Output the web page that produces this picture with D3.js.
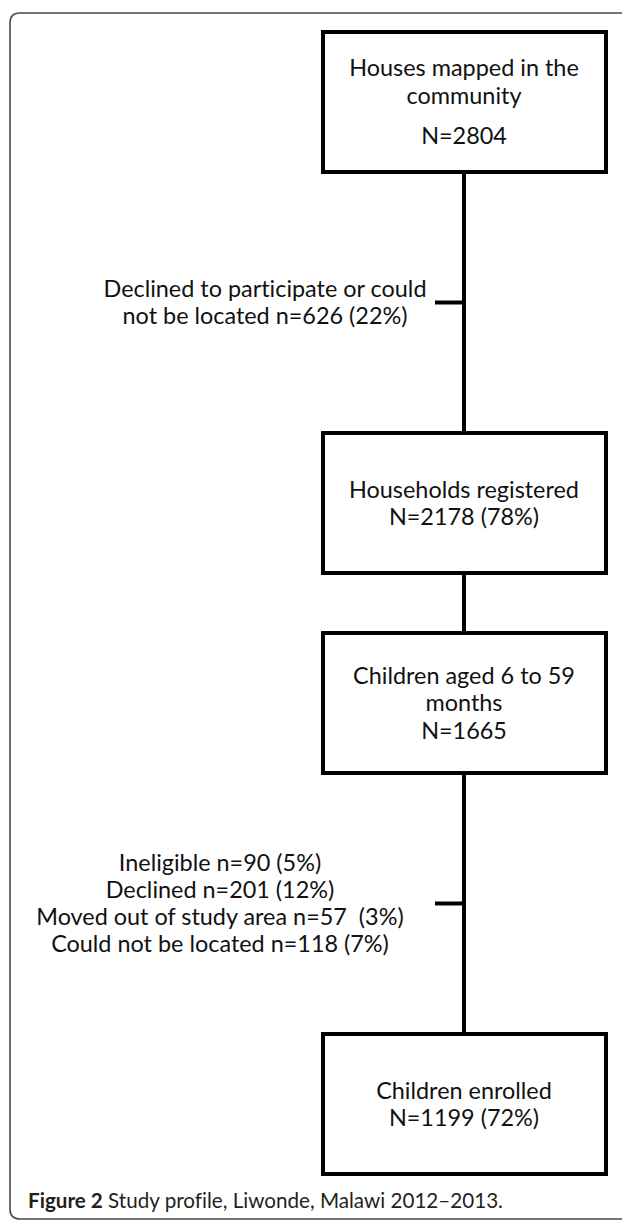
<!DOCTYPE html>
<html>
<head>
<meta charset="utf-8">
<script src="https://cdn.jsdelivr.net/npm/d3@7/dist/d3.min.js"></script>
<style>
  html, body { margin: 0; padding: 0; background: #fff; }
  svg { display: block; }
  text { font-variant-ligatures: none; font-feature-settings: "liga" 0, "clig" 0; }
</style>
</head>
<body>
<svg id="chart" width="622" height="1221"></svg>
<script>
// ---- data ----
const stageNames = [
  [["Houses mapped in the", "community"], ["N=2804"]],
  [["Households registered", "N=2178 (78%)"]],
  [["Children aged 6 to 59", "months", "N=1665"]],
  [["Children enrolled", "N=1199 (72%)"]]
];
const stageCounts = [2804, 2178, 1665, 1199];
const exclusionAfterStage = [0, 2];
const exclusionLines = [
  ["Declined to participate or could", "not be located n=626 (22%)"],
  ["Ineligible n=90 (5%)", "Declined n=201 (12%)", "Moved out of study area n=57\u00a0 (3%)", "Could not be located n=118 (7%)"]
];
const captionBold = "Figure 2";
const captionText = " Study profile, Liwonde, Malawi 2012\u20132013.";

// ---- layout ----
const W = 622, H = 1221;
const FONT = "Lato, 'Open Sans', sans-serif";
const svg = d3.select("#chart");

// vertical units: box height, connector with exclusion, plain connector
const boxH = 140, longGap = 261, shortGap = 60;
const tops = [];
let acc = 0;
stageNames.forEach((s, i) => {
  tops.push(acc);
  acc += boxH;
  if (i < stageNames.length - 1) acc += exclusionAfterStage.includes(i) ? longGap : shortGap;
});
const y = d3.scaleLinear().domain([0, acc]).range([32, 32 + acc]);
const x = d3.scaleLinear().domain([0, 1]).range([323, 606]);
const cx = x(0.5) - 0.5;

// outer frame
const fx0 = 10, fy0 = 13, fx1 = 640, fy1 = 1219, r = 10;
svg.append("path")
  .attr("d", `M${fx0},${fy0 + r} Q${fx0},${fy0} ${fx0 + r},${fy0} L${fx1},${fy0} L${fx1},${fy1} L${fx0 + r},${fy1} Q${fx0},${fy1} ${fx0},${fy1 - r} Z`)
  .attr("fill", "none").attr("stroke", "#4a4a4a").attr("stroke-width", 1.6);

// font sizing fitted to reference widths
function measure(str, size, weight) {
  const t = svg.append("text").attr("font-family", FONT).attr("font-size", size)
    .attr("font-weight", weight || "normal").text(str);
  const w = t.node().getComputedTextLength();
  t.remove();
  return w;
}
const fs = 100 * 230 / measure("Households registered", 100);
const capFs = 100 * 470 / (measure(captionBold, 100, "bold") + measure(captionText, 100));

const lineG = svg.append("g").attr("stroke", "#000").attr("stroke-width", 4).attr("fill", "none");

// connectors
for (let i = 0; i < stageNames.length - 1; i++) {
  lineG.append("line")
    .attr("x1", cx).attr("x2", cx)
    .attr("y1", y(tops[i] + boxH)).attr("y2", y(tops[i + 1]));
}

// boxes
const pitch = 27.5, paraGap = 13;
stageNames.forEach((paras, i) => {
  const y0 = y(tops[i]), y1 = y(tops[i] + boxH);
  svg.append("rect")
    .attr("x", x(0)).attr("y", y0).attr("width", x(1) - x(0)).attr("height", y1 - y0)
    .attr("fill", "#fff").attr("stroke", "#000").attr("stroke-width", 4);
  const lines = [];
  let off = 0;
  paras.forEach((p, pi) => {
    if (pi > 0) off += paraGap;
    p.forEach(l => { lines.push({ t: l, o: off }); off += pitch; });
  });
  const span = off - pitch;
  const center = (y0 + y1) / 2;
  const first = center - span / 2 + fs * 0.36;
  svg.append("g").selectAll("text").data(lines).join("text")
    .attr("x", cx).attr("y", d => first + d.o)
    .attr("text-anchor", "middle").attr("font-family", FONT).attr("font-size", fs)
    .attr("fill", "#111").text(d => d.t);
});

// exclusions
const tickLen = 29;
const exclCenters = [265, 220];
const exPitch = 27;
exclusionAfterStage.forEach((si, k) => {
  const ty = (y(tops[si] + boxH) + y(tops[si + 1])) / 2;
  lineG.append("line").attr("x1", cx - tickLen).attr("x2", cx + 2).attr("y1", ty).attr("y2", ty);
  const ls = exclusionLines[k];
  const span = (ls.length - 1) * exPitch;
  const first = ty - span / 2 + fs * 0.36;
  svg.append("g").selectAll("text").data(ls).join("text")
    .attr("x", exclCenters[k]).attr("y", (d, j) => first + j * exPitch)
    .attr("text-anchor", "middle").attr("font-family", FONT).attr("font-size", fs)
    .attr("fill", "#111").style("white-space", "pre").text(d => d);
});

// caption
const cap = svg.append("text").attr("x", 28).attr("y", 1208)
  .attr("font-family", FONT).attr("font-size", capFs).attr("fill", "#231f20");
cap.append("tspan").attr("font-weight", "bold").text(captionBold);
cap.append("tspan").style("white-space", "pre").text(captionText);
</script>
</body>
</html>
